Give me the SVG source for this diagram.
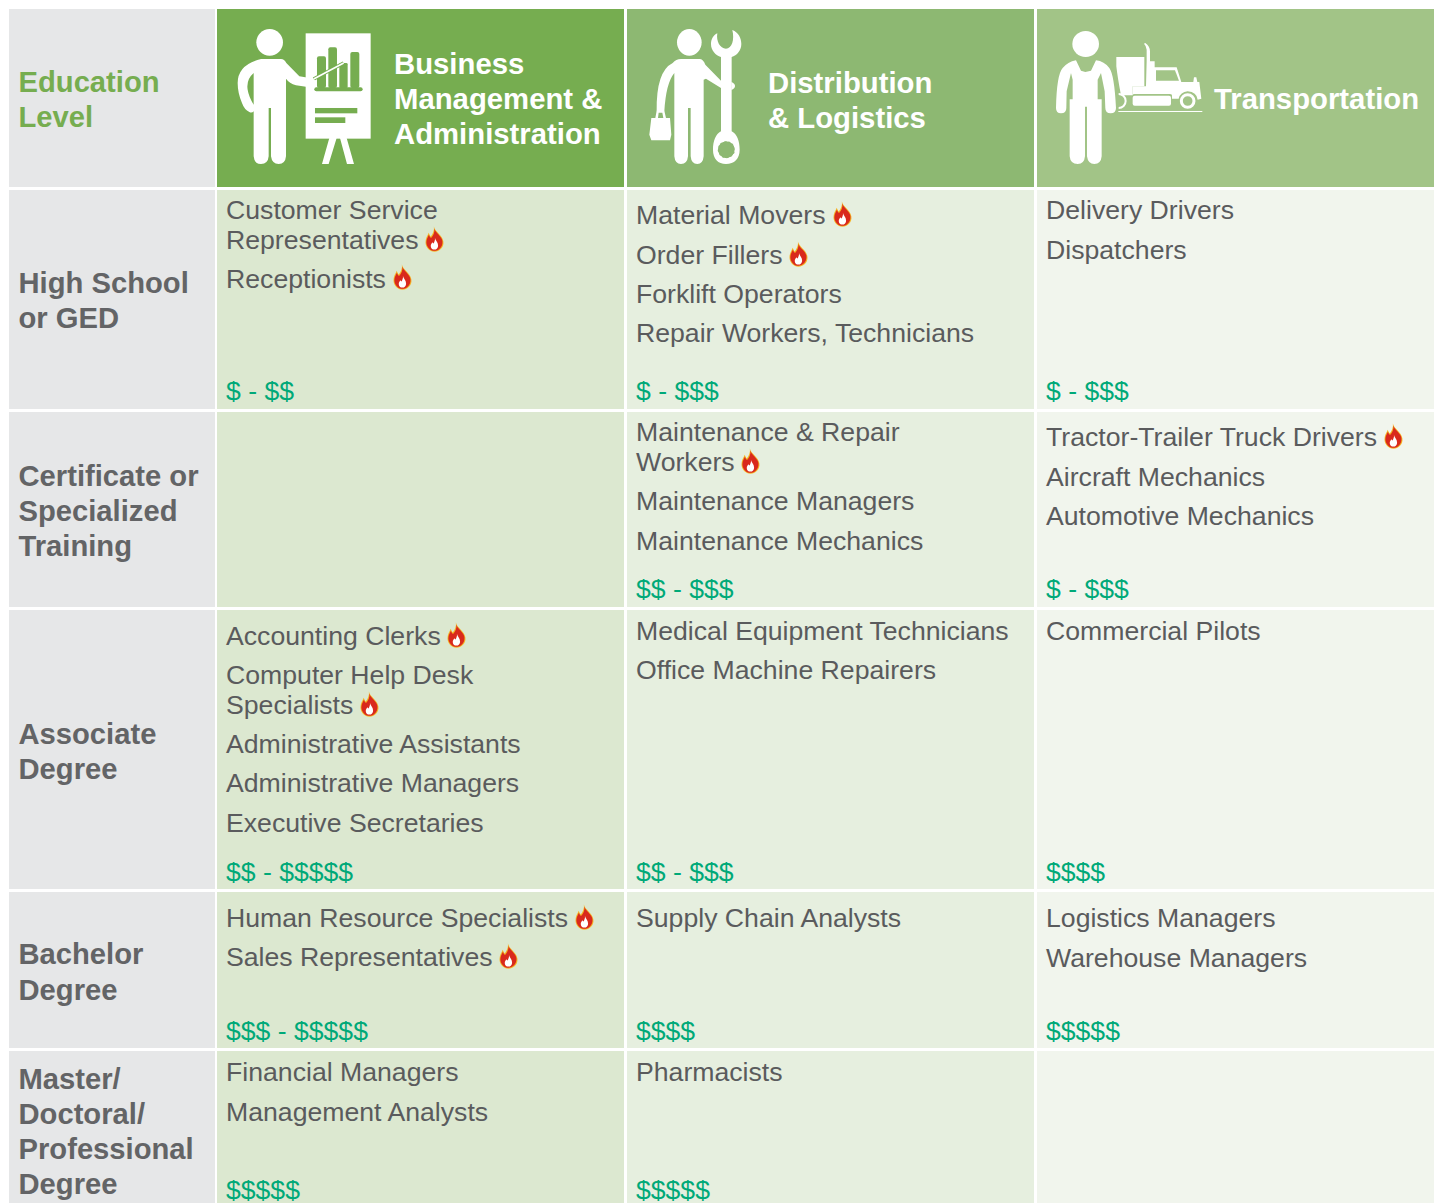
<svg xmlns="http://www.w3.org/2000/svg" xmlns:xlink="http://www.w3.org/1999/xlink" width="1434" height="1203" viewBox="0 0 1434 1203">
<style>
text{font-family:"Liberation Sans",Arial,sans-serif}
.h{font-size:29.3px;font-weight:700;fill:#fff}
.r{font-size:29.2px;font-weight:700;fill:#636466}
.t{font-size:26.65px;fill:#5a5b5d}
.m{font-size:26.6px;fill:#00a978}
.w{fill:#fff}
</style>
<defs>
<g id="fire" transform="translate(-.5 -1.5) scale(1.05)">
<path d="M8 0C9 5 16 8 17 14C18 20 13 24 8.500 24C4 24 0 20 0 15C0 11 2 9 3 6C4 8 4.500 9 5 9.500C7 7 8.500 4 8 0Z" fill="#f5b324"/>
<path d="M8.400 1.800C9.500 6.500 16 9 16.200 14.500C16.400 19.500 12.500 23.200 8.500 23.200C4.500 23.200 .8 19.500 .8 15C.8 12 2.300 10 3.200 7.800C4 9.500 4.500 10.500 5.300 11C7.500 8.500 9 5.500 8.400 1.800Z" fill="#d9291c"/>
<path d="M9 11C9.500 13.500 12 15 12 18C12 20.500 10.500 22 8.500 22C6.500 22 5 20.500 5 18.500C5 17 6 16 6.500 15C7 15.800 7.300 16 7.700 16.200C8.500 14.500 9.300 13 9 11Z" fill="#fff"/>
</g>
</defs>
<rect width="1434" height="1203" fill="#fff"/>
<g id="grid">
<rect x="9" y="9" width="206" height="178" fill="#e6e7e8"/>
<rect x="217" y="9" width="407" height="178" fill="#76ad50"/>
<rect x="627" y="9" width="407" height="178" fill="#8db872"/>
<rect x="1037" y="9" width="397" height="178" fill="#a2c487"/>
<rect x="9" y="190" width="206" height="219" fill="#e6e7e8"/>
<rect x="217" y="190" width="407" height="219" fill="#dce8d0"/>
<rect x="627" y="190" width="407" height="219" fill="#e6efdf"/>
<rect x="1037" y="190" width="397" height="219" fill="#f1f5ed"/>
<rect x="9" y="412" width="206" height="195" fill="#e6e7e8"/>
<rect x="217" y="412" width="407" height="195" fill="#dce8d0"/>
<rect x="627" y="412" width="407" height="195" fill="#e6efdf"/>
<rect x="1037" y="412" width="397" height="195" fill="#f1f5ed"/>
<rect x="9" y="610" width="206" height="279" fill="#e6e7e8"/>
<rect x="217" y="610" width="407" height="279" fill="#dce8d0"/>
<rect x="627" y="610" width="407" height="279" fill="#e6efdf"/>
<rect x="1037" y="610" width="397" height="279" fill="#f1f5ed"/>
<rect x="9" y="892" width="206" height="156" fill="#e6e7e8"/>
<rect x="217" y="892" width="407" height="156" fill="#dce8d0"/>
<rect x="627" y="892" width="407" height="156" fill="#e6efdf"/>
<rect x="1037" y="892" width="397" height="156" fill="#f1f5ed"/>
<rect x="9" y="1051" width="206" height="152" fill="#e6e7e8"/>
<rect x="217" y="1051" width="407" height="152" fill="#dce8d0"/>
<rect x="627" y="1051" width="407" height="152" fill="#e6efdf"/>
<rect x="1037" y="1051" width="397" height="152" fill="#f1f5ed"/>
</g>
<g id="connectors"/>
<g id="head-education"><text x="18.500" y="92" class="r" style="fill:#76ad50">Education</text><text x="18.500" y="127" class="r" style="fill:#76ad50">Level</text></g>
<g id="head-business">
<g transform="translate(216 8) scale(.3333)">
<ellipse class="w" cx="161" cy="103" rx="40" ry="40"/>
<path class="w" d="M135 153H195Q205 153 211 165L250 205L295 212Q303 225 295 240L240 232Q220 226 210 212V445Q208 468 188 468Q168 468 165 445V300H158V445Q156 468 135 468Q115 468 113 445V310Q108 316 100 312Q85 305 78 285Q65 255 65 225Q65 170 135 153ZM113 195Q90 215 95 245Q98 265 113 290Z"/>
<rect class="w" x="269" y="76" width="195" height="316"/>
<path class="w" d="M340 390H362L338 468H318ZM372 390H392L414 468H393Z"/>
<g fill="#76ad50"><rect x="303" y="145" width="27" height="95" rx="6"/><rect x="337" y="118" width="26" height="122" rx="6"/><rect x="370" y="165" width="25" height="75" rx="4"/><rect x="403" y="132" width="27" height="108" rx="6"/><rect x="295" y="238" width="145" height="12" rx="6"/><rect x="297" y="300" width="127" height="16"/><rect x="297" y="328" width="91" height="17"/></g>
<path d="M293 213L383 165" stroke="#76ad50" stroke-width="11" fill="none"/>
<path d="M293 213L383 165" stroke="#fff" stroke-width="5" fill="none"/>
<circle class="w" cx="287" cy="226" r="13"/>
</g>
<text x="394" y="74" class="h">Business</text><text x="394" y="109" class="h">Management &amp;</text><text x="394" y="144" class="h">Administration</text>
</g>
<g id="head-distribution">
<g transform="translate(626 8) scale(.3333)">
<ellipse class="w" cx="190" cy="103" rx="37" ry="40"/>
<path class="w" d="M165 153H220Q232 153 238 170L285 218V240L240 212L233 215V445Q231 468 214 468Q196 468 194 445V300H186V445Q184 468 165 468Q147 468 145 445V195Q120 225 115 310H92Q90 190 140 165Q150 153 165 153Z"/>
<path class="w" d="M274 76C270 100 282 122 300 122C318 122 326 95 319 66C338 74 346 90 346 108C346 128 333 142 317 147V370C333 378 341 400 341 425C341 452 325 468 300 468C276 468 261 452 261 425C261 400 269 378 285 370V147C269 142 255 128 255 108C255 94 262 82 274 76Z"/>
<path class="w" d="M316 222Q327 226 327 234Q327 242 316 246Z"/>
<circle fill="#8db872" cx="301" cy="425" r="26"/>
<circle cx="301" cy="425" r="27" fill="none" stroke="#fff" stroke-width="4" stroke-dasharray="7 7"/>
<path class="w" d="M88 330L92 308H115L120 330H132L136 380L132 397H76L70 380L76 330ZM96 330H112L109 314H98Z"/>
</g>
<text x="768" y="93" class="h">Distribution</text><text x="768" y="128" class="h">&amp; Logistics</text>
</g>
<g id="head-transportation">
<g transform="translate(1036 8) scale(.3333)">
<ellipse class="w" cx="149" cy="108" rx="40" ry="39"/>
<path class="w" d="M120 157L135 188L148 192L165 188L180 157Q205 160 220 180Q235 200 240 300Q240 316 224 316Q208 316 208 300L206 250L195 195L185 215V274H197V445Q195 468 175 468Q156 468 153 445V296H147V445Q145 468 125 468Q103 468 101 445V274H110V215L105 195L92 250L91 300Q91 316 75 316Q60 316 60 300Q62 200 80 180Q95 162 120 157Z"/>
<path class="w" d="M241 147H325V235H290V262H255Q245 210 241 175Z"/>
<path class="w" d="M332 160V125Q330 112 324 107L328 105Q342 115 342 130V160H356V178H422L436 222H472L474 208H481L484 222H490L496 272L485 275Q482 252 455 250Q433 252 428 272L408 272V262Q408 258 400 258H296Q290 258 290 262V235H330Z"/>
<path fill="#a2c487" d="M360 187H417L429 218H360Z"/>
<rect class="w" x="290" y="263" width="115" height="30" rx="6"/>
<circle cx="455" cy="279" r="19" fill="none" stroke="#fff" stroke-width="9"/>
<path d="M248 258A20 20 0 0 1 248 300" fill="none" stroke="#fff" stroke-width="6"/>
<rect class="w" x="247" y="309" width="252" height="3"/>
</g>
<text x="1214" y="109" class="h">Transportation</text>
</g>
<g id="row-highschool">
<text x="18.500" y="293" class="r">High School</text><text x="18.500" y="328" class="r">or GED</text>
<text x="226" y="219" class="t">Customer Service</text><text x="226" y="249" class="t">Representatives</text><use xlink:href="#fire" href="#fire" x="426" y="228"/>
<text x="226" y="288" class="t">Receptionists</text><use xlink:href="#fire" href="#fire" x="394" y="266"/>
<text x="226" y="400" class="m">$ - $$</text>
<text x="636" y="224" class="t">Material Movers</text><use xlink:href="#fire" href="#fire" x="834" y="203"/>
<text x="636" y="264" class="t">Order Fillers</text><use xlink:href="#fire" href="#fire" x="790" y="243"/>
<text x="636" y="303" class="t">Forklift Operators</text>
<text x="636" y="342" class="t">Repair Workers, Technicians</text>
<text x="636" y="400" class="m">$ - $$$</text>
<text x="1046" y="219" class="t">Delivery Drivers</text>
<text x="1046" y="259" class="t">Dispatchers</text>
<text x="1046" y="400" class="m">$ - $$$</text>
</g>
<g id="row-certificate">
<text x="18.500" y="486" class="r">Certificate or</text><text x="18.500" y="521" class="r">Specialized</text><text x="18.500" y="556" class="r">Training</text>
<text x="636" y="441" class="t">Maintenance &amp; Repair</text><text x="636" y="471" class="t">Workers</text><use xlink:href="#fire" href="#fire" x="742" y="450"/>
<text x="636" y="510" class="t">Maintenance Managers</text>
<text x="636" y="550" class="t">Maintenance Mechanics</text>
<text x="636" y="598" class="m">$$ - $$$</text>
<text x="1046" y="446" class="t">Tractor-Trailer Truck Drivers</text><use xlink:href="#fire" href="#fire" x="1385" y="425"/>
<text x="1046" y="486" class="t">Aircraft Mechanics</text>
<text x="1046" y="525" class="t">Automotive Mechanics</text>
<text x="1046" y="598" class="m">$ - $$$</text>
</g>
<g id="row-associate">
<text x="18.500" y="744" class="r">Associate</text><text x="18.500" y="779" class="r">Degree</text>
<text x="226" y="645" class="t">Accounting Clerks</text><use xlink:href="#fire" href="#fire" x="448" y="624"/>
<text x="226" y="684" class="t">Computer Help Desk</text><text x="226" y="714" class="t">Specialists</text><use xlink:href="#fire" href="#fire" x="361" y="693"/>
<text x="226" y="753" class="t">Administrative Assistants</text>
<text x="226" y="792" class="t">Administrative Managers</text>
<text x="226" y="832" class="t">Executive Secretaries</text>
<text x="226" y="881" class="m">$$ - $$$$$</text>
<text x="636" y="640" class="t">Medical Equipment Technicians</text>
<text x="636" y="679" class="t">Office Machine Repairers</text>
<text x="636" y="881" class="m">$$ - $$$</text>
<text x="1046" y="640" class="t">Commercial Pilots</text>
<text x="1046" y="881" class="m">$$$$</text>
</g>
<g id="row-bachelor">
<text x="18.500" y="964" class="r">Bachelor</text><text x="18.500" y="1000" class="r">Degree</text>
<text x="226" y="927" class="t">Human Resource Specialists</text><use xlink:href="#fire" href="#fire" x="576" y="906"/>
<text x="226" y="966" class="t">Sales Representatives</text><use xlink:href="#fire" href="#fire" x="500" y="945"/>
<text x="226" y="1040" class="m">$$$ - $$$$$</text>
<text x="636" y="927" class="t">Supply Chain Analysts</text>
<text x="636" y="1040" class="m">$$$$</text>
<text x="1046" y="927" class="t">Logistics Managers</text>
<text x="1046" y="967" class="t">Warehouse Managers</text>
<text x="1046" y="1040" class="m">$$$$$</text>
</g>
<g id="row-master">
<text x="18.500" y="1089" class="r">Master/</text><text x="18.500" y="1124" class="r">Doctoral/</text><text x="18.500" y="1159" class="r">Professional</text><text x="18.500" y="1194" class="r">Degree</text>
<text x="226" y="1081" class="t">Financial Managers</text>
<text x="226" y="1121" class="t">Management Analysts</text>
<text x="226" y="1199" class="m">$$$$$</text>
<text x="636" y="1081" class="t">Pharmacists</text>
<text x="636" y="1199" class="m">$$$$$</text>
</g>
</svg>
